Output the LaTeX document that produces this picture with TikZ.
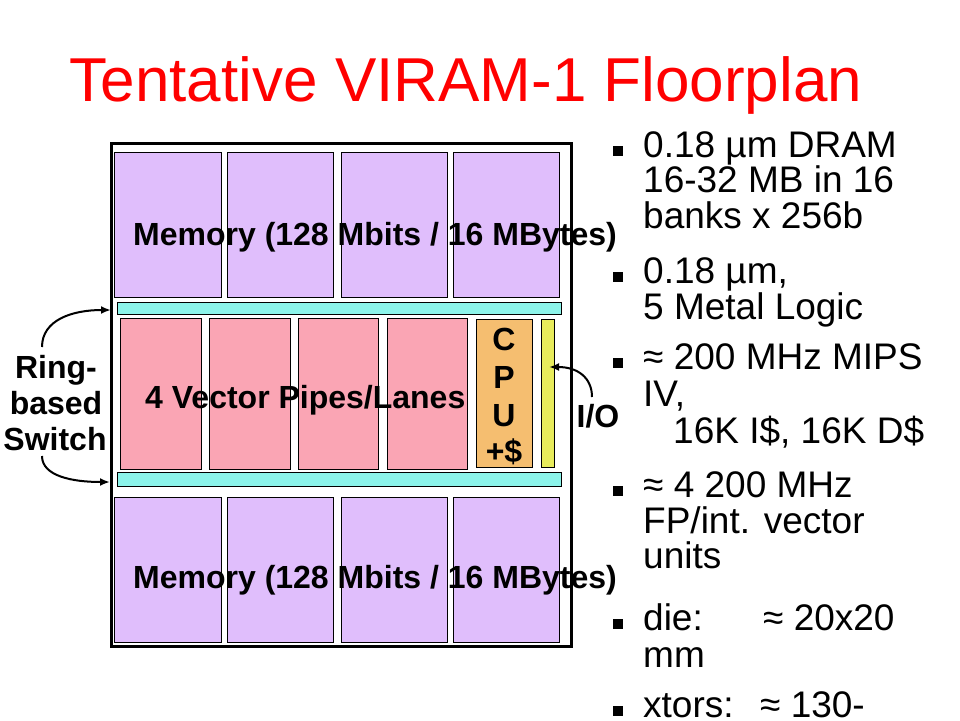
\documentclass[tikz,border=0pt]{standalone}
\usepackage{fontspec}
\setmainfont{Liberation Sans}
\usetikzlibrary{arrows.meta}
\definecolor{memc}{RGB}{224,190,252}
\definecolor{lanec}{RGB}{250,165,180}
\definecolor{busc}{RGB}{140,244,234}
\definecolor{cpuc}{RGB}{245,190,112}
\definecolor{ioc}{RGB}{232,236,92}
\definecolor{titlec}{RGB}{255,0,0}
\tikzset{
  blk/.style={draw=black, line width=1pt},
  lbl/.style={inner sep=0pt, anchor=base, font=\fontsize{32}{36}\selectfont\bfseries},
  lblw/.style={inner sep=0pt, anchor=base west, font=\fontsize{32}{36}\selectfont\bfseries},
  txt/.style={inner sep=0pt, anchor=base west, font=\fontsize{37}{40}\selectfont},
  bul/.style={fill=black, minimum size=9.5pt, inner sep=0pt},
  arr/.style={line width=2pt, -{Latex[length=10pt,width=8pt]}},
}
\begin{document}
\begin{tikzpicture}[x=1pt,y=-1pt]
\useasboundingbox (0,0) rectangle (960,720);
\fill[white] (0,0) rectangle (960,720);
% title
\node[inner sep=0pt, anchor=base, text=titlec, font=\fontsize{62}{70}\selectfont] (title) at (466,101) {Tentative VIRAM-1 Floorplan};
% die outline
\draw[line width=3pt] (111,143) rectangle (571,646);
% memory banks
\foreach \a/\b in {114/221,227/333,341/447,453/559}{
  \draw[blk, fill=memc] (\a,152) rectangle (\b,297);
  \draw[blk, fill=memc] (\a,497) rectangle (\b,642);
}
% buses
\draw[blk, fill=busc] (117,302) rectangle (561,314);
\draw[blk, fill=busc] (117,472) rectangle (561,486);
% lanes
\foreach \a/\b in {120/201,209/290,298/378,387/467}{
  \draw[blk, fill=lanec] (\a,318) rectangle (\b,469);
}
% CPU
\draw[blk, fill=cpuc] (476,319) rectangle (532,467);
% I/O strip
\draw[blk, fill=ioc] (541,319) rectangle (554,467);
% labels
\node[lblw] (memtop) at (133,245) {Memory (128 Mbits / 16 MBytes)};
\node[lblw] (membot) at (133,588) {Memory (128 Mbits / 16 MBytes)};
\node[lblw] (lanes) at (145,408) {4 Vector Pipes/Lanes};
\node[lbl] (cpu1) at (504,350) {C};
\node[lbl] (cpu2) at (504,388) {P};
\node[lbl] (cpu3) at (504,426) {U};
\node[lbl] (cpu4) at (504,462) {+\$};
\node[lbl] (io) at (598,427) {I/O};
\node[lbl] (ring1) at (56,378) {Ring-};
\node[lbl] (ring2) at (56,414) {based};
\node[lbl] (ring3) at (55,450) {Switch};
% arrows
\coordinate (rs1) at (42,347);
\coordinate (rt1) at (111,310);
\coordinate (rs2) at (42,456);
\coordinate (rt2) at (110,482);
\coordinate (ios) at (592,397);
\coordinate (iot) at (549,367);
\draw[arr] (rs1) .. controls (42,320) and (72,310) .. (rt1);
\draw[arr] (rs2) .. controls (42,476) and (72,482) .. (rt2);
\draw[arr] (ios) .. controls (592,378) and (578,367) .. (iot);
% bullets
\foreach \y [count=\i] in {157,283,369,497,630,717}{
  \node[bul] (b\i) at (618,\y-6) {};
}
\node[txt] (t1a) at (643,157) {0.18 µm DRAM};
\node[txt] (t1b) at (643,192.5) {16-32 MB in 16};
\node[txt] (t1c) at (643,228) {banks x 256b};
\node[txt] (t2a) at (643,283) {0.18 µm,};
\node[txt] (t2b) at (643,319) {5 Metal Logic};
\node[txt] (t3a) at (643,369) {≈ 200 MHz MIPS};
\node[txt] (t3b) at (643,406) {IV,};
\node[txt] (t3c) at (673,443) {16K I\$, 16K D\$};
\node[txt] (t4a) at (643,497) {≈ 4 200 MHz};
\node[txt] (t4b) at (643,533) {FP/int. vector};
\node[txt] (t4c) at (643,568) {units};
\node[txt] (t5a) at (643,630) {die:};
\node[txt] (t5b) at (763,630) {≈ 20x20};
\node[txt] (t5c) at (643,667) {mm};
\node[txt] (t6a) at (643,717) {xtors:};
\node[txt] (t6b) at (760,717) {≈ 130-};
\end{tikzpicture}
\end{document}
